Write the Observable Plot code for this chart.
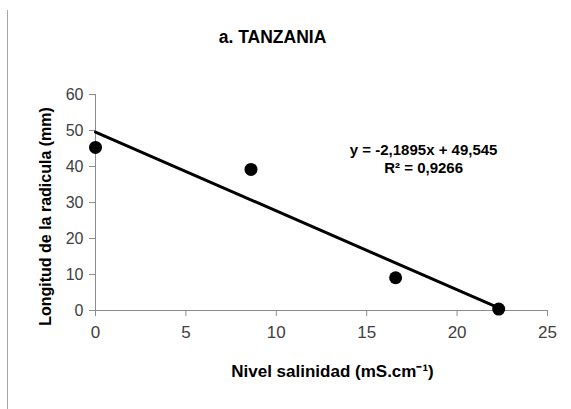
<!DOCTYPE html>
<html>
<head>
<meta charset="utf-8">
<script src="https://cdn.jsdelivr.net/npm/d3@7"></script>
<script src="https://cdn.jsdelivr.net/npm/@observablehq/plot@0.6"></script>
<style>
  html, body { margin: 0; padding: 0; background: #fff; }
  #wrap { position: relative; width: 571px; height: 409px; }
  #border { position: absolute; left: 7px; top: 10px; width: 1px; height: 399px; background: #a6a6a6; }
</style>
</head>
<body>
<div id="wrap"><div id="border"></div><div id="chart"></div></div>
<script>
const salinity = [0, 8.6, 16.6, 22.3];
const rootLength = [45.3, 39.2, 9.1, 0.4];
const xTicks = [0, 5, 10, 15, 20, 25];
const yTicks = [0, 10, 20, 30, 40, 50, 60];
const title = "a. TANZANIA";
const xLabel = "Nivel salinidad (mS.cm\u207B\u00B9)";
const yLabel = "Longitud de la radicula (mm)";
const equation = "y = -2,1895x + 49,545\nR\u00B2 = 0,9266";
const slope = -2.1895;
const intercept = 49.545;

const data = salinity.map((x, i) => ({x, y: rootLength[i]}));
const xExt = d3.extent(salinity);
const trend = xExt.map(x => ({x, y: slope * x + intercept}));

const font = "'Liberation Sans', Arial, sans-serif";
const axisGray = "#8c8c8c";

const chart = Plot.plot({
  width: 571,
  height: 409,
  marginLeft: 95,
  marginRight: 24,
  marginTop: 94,
  marginBottom: 99,
  style: {fontFamily: font, background: "transparent", overflow: "visible"},
  x: {domain: [0, 25], ticks: xTicks},
  y: {domain: [0, 60], ticks: yTicks},
  marks: [
    Plot.ruleY([0], {stroke: axisGray, strokeWidth: 1}),
    Plot.ruleX([0], {stroke: axisGray, strokeWidth: 1}),
    Plot.axisX({ticks: xTicks, tickSize: 6, stroke: axisGray, tickPadding: 9, fontSize: 17, color: "#404040", label: null, tickFormat: d => String(d)}),
    Plot.axisY({ticks: yTicks, tickSize: 6, stroke: axisGray, tickPadding: 6, fontSize: 16, color: "#404040", label: null, tickFormat: d => String(d)}),
    Plot.line(trend, {x: "x", y: "y", stroke: "#000", strokeWidth: 3}),
    Plot.dot(data, {x: "x", y: "y", r: 6.5, fill: "#000", stroke: "none"}),
    Plot.text([equation], {x: 18.15, y: 42.2, text: d => d, fontSize: 15, fontWeight: "bold", fill: "#000", lineHeight: 1.2, textAnchor: "middle"}),
    Plot.text([title], {frameAnchor: "top", dx: -49, dy: -64, text: d => d, fontSize: 17.5, fontWeight: "bold", fill: "#000"}),
    Plot.text([xLabel], {frameAnchor: "bottom", dx: 11, dy: 66, text: d => d, fontSize: 17, fontWeight: "bold", fill: "#000"}),
    Plot.text([yLabel], {frameAnchor: "left", rotate: -90, textAnchor: "middle", dx: -50, dy: 14, text: d => d, fontSize: 16, fontWeight: "bold", fill: "#000"})
  ]
});
document.getElementById("chart").appendChild(chart);
</script>
</body>
</html>
